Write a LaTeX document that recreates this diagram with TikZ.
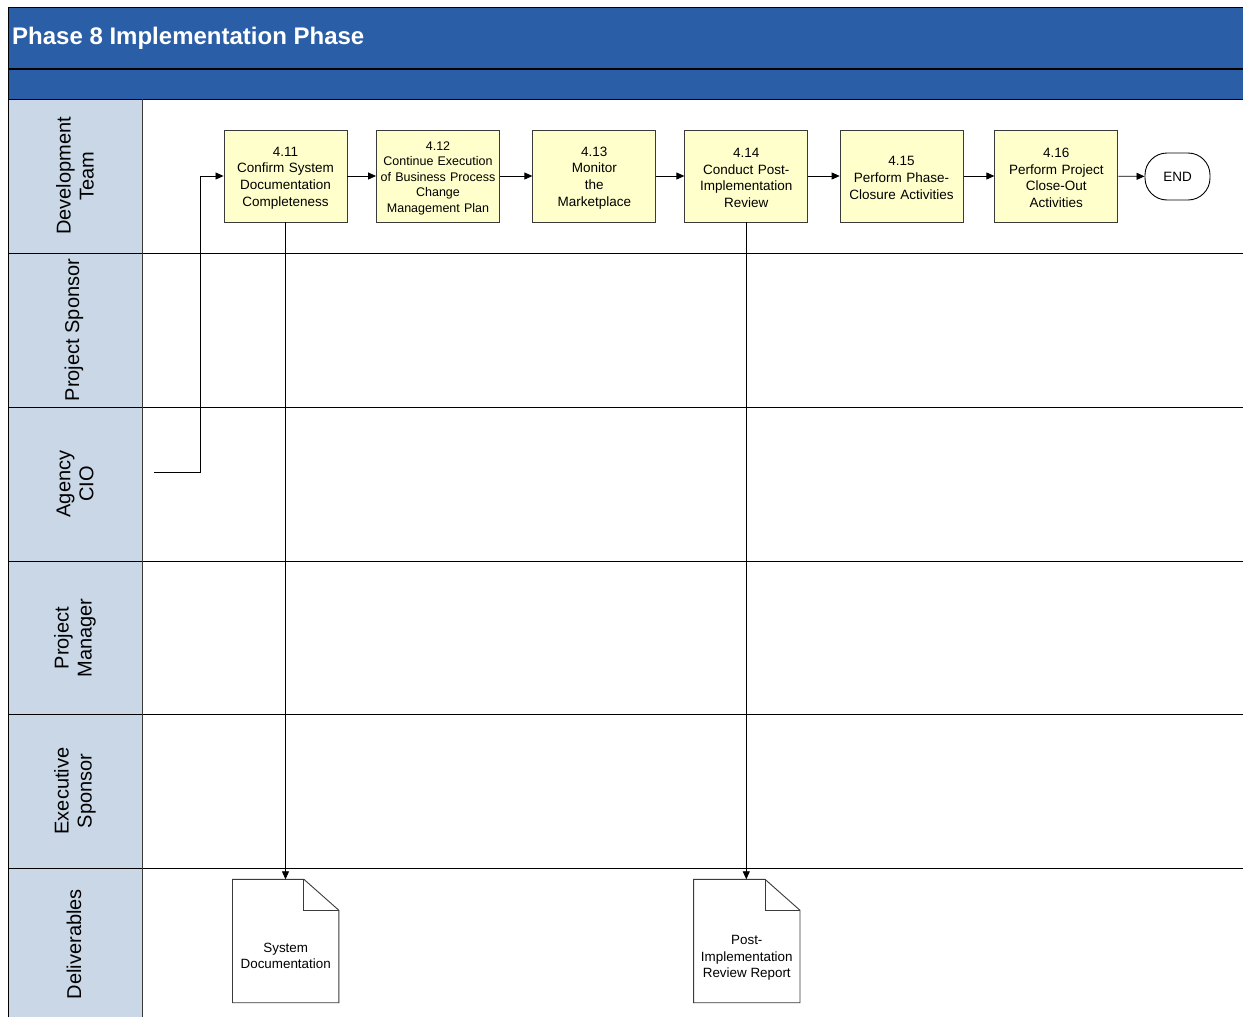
\documentclass[tikz,border=0pt]{standalone}
\usepackage{fontspec}
\setmainfont{Liberation Sans}
\usetikzlibrary{arrows.meta,calc}
\definecolor{titleblue}{HTML}{2A5EA6}
\definecolor{lanefill}{HTML}{C9D7E6}
\definecolor{boxfill}{HTML}{FFFFCC}
\definecolor{boxline}{HTML}{3A3A3A}
\begin{document}
\begin{tikzpicture}[x=1pt,y=-1pt,
  proc/.style={draw=boxline, fill=boxfill, line width=0.9pt, minimum width=123pt, minimum height=92pt, inner sep=0pt, align=center, text width=121pt, font=\fontsize{13.5}{16.7}\selectfont, execute at begin node={\rule{0pt}{13pt}}},
  procsmall/.style={proc, font=\fontsize{12.5}{15.5}\selectfont},
  endbox/.style={draw=black, line width=0.9pt, rounded corners=22pt, minimum width=65pt, minimum height=47pt, inner sep=0pt, font=\fontsize{13.5}{16}\selectfont},
  docshape/.style={minimum width=106pt, minimum height=123pt, inner sep=0pt},
  doctext/.style={align=center, inner sep=0pt, font=\fontsize{13.4}{16.5}\selectfont},
  lanelabel/.style={rotate=90, align=center, inner sep=0pt, font=\fontsize{20}{23}\selectfont},
  laneline/.style={draw=black, line width=1pt},
  flow/.style={draw=black, line width=0.8pt, -{Triangle[length=8pt,width=7pt]}},
  docline/.style={draw=boxline, line width=0.9pt}
]
\clip (0,0) rectangle (1243,1017);
\fill[white] (0,0) rectangle (1243,1017);
% header bands
\fill[titleblue] (8,7) rectangle (1260,99);
\draw[laneline] (8,7) -- (1260,7);
\draw[draw=black, line width=1.5pt] (8,69) -- (1260,69);
\node[anchor=base west, inner sep=0pt, text=white, font=\fontsize{24}{28}\selectfont\bfseries] (title) at (12,45) {Phase 8 Implementation Phase};
% lane label column
\fill[lanefill] (8,99) rectangle (142,1040);
% lane lines
\foreach \yy in {99,253,407,561,714,868} {\draw[laneline] (8,\yy) -- (1260,\yy);}
\draw[laneline] (8,7) -- (8,1040);
\draw[draw=boxline, line width=1pt] (142,99) -- (142,1040);
% lane labels
\node[lanelabel] (l1) at (75,176) {Development\\Team};
\node[lanelabel] (l2) at (74,330) {Project Sponsor};
\node[lanelabel] (l3) at (75,484) {Agency\\CIO};
\node[lanelabel] (l4) at (75,638) {Project\\Manager};
\node[lanelabel] (l5) at (75,791) {Executive\\Sponsor};
\node[lanelabel] (l6) at (74,944) {Deliverables};
% process boxes
\node[proc] (b411) at (285.5,176) {4.11\\Confirm System\\Documentation\\Completeness};
\node[procsmall] (b412) at (438,176) {4.12\\Continue Execution\\of Business Process\\Change\\Management Plan};
\node[proc] (b413) at (594.3,176) {4.13\\Monitor\\the\\Marketplace};
\node[proc] (b414) at (746.3,176) {4.14\\Conduct Post-\\Implementation\\Review};
\node[proc] (b415) at (901.6,176) {4.15\\Perform Phase-\\Closure Activities};
\node[proc] (b416) at (1056.3,176) {4.16\\Perform Project\\Close-Out\\Activities};
\node[endbox] (end) at (1177.5,176.5) {END};
% documents
\node[docshape] (d1) at (285.7,941) {};
\node[docshape] (d2) at (746.8,941) {};
\foreach \d in {d1,d2} {
  \draw[docline] (\d.north west) -- ($(\d.north east)+(-35,0)$) -- ($(\d.north east)+(0,31)$) -- (\d.south east) -- (\d.south west) -- cycle;
  \draw[docline] ($(\d.north east)+(-35,0)$) -- ($(\d.north east)+(-35,31)$) -- ($(\d.north east)+(0,31)$);
}
\node[doctext] (d1t) at ($(d1.center)+(0,15)$) {System\\Documentation};
\node[doctext] (d2t) at ($(d2.center)+(0,17)$) {Post-\\Implementation\\Review Report};
% connectors
\coordinate (cio) at (154,472);
\draw[flow] (cio) -- ++(46,0) |- (b411.west);
\draw[flow] (b411) -- (b412);
\draw[flow] (b412) -- (b413);
\draw[flow] (b413) -- (b414);
\draw[flow] (b414) -- (b415);
\draw[flow] (b415) -- (b416);
\draw[flow] (b416) -- (end);
\draw[flow] (b411.south) -- (b411.south |- d1.north);
\draw[flow] (b414.south) -- (b414.south |- d2.north);
\end{tikzpicture}
\end{document}
